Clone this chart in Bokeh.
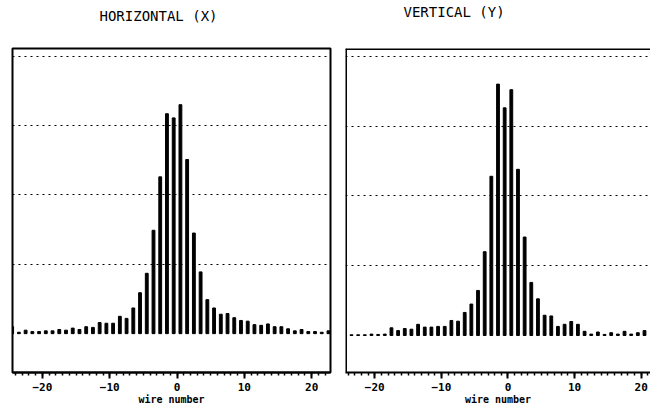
from bokeh.plotting import figure
from bokeh.layouts import row
from bokeh.models import (SingleIntervalTicker, FixedTicker, Range1d, Span,
                          ColumnDataSource, Title)
from bokeh.transform import dodge
from bokeh.embed import file_html
from bokeh.resources import INLINE

# ---- data ----
wires_x = list(range(-25, 23))          # horizontal plane wires
counts_x = [0.10, 0.02, 0.05, 0.03, 0.03, 0.04, 0.04, 0.06, 0.05, 0.08,
            0.06, 0.10, 0.09, 0.16, 0.15, 0.15, 0.25, 0.22, 0.37, 0.59,
            0.87, 1.49, 2.26, 3.17, 3.11, 3.30, 2.51, 1.45, 0.89, 0.49,
            0.37, 0.28, 0.29, 0.23, 0.19, 0.18, 0.13, 0.12, 0.14, 0.10,
            0.10, 0.07, 0.04, 0.06, 0.03, 0.03, 0.02, 0.04]

wires_y = list(range(-24, 21))          # vertical plane wires
counts_y = [0.01, 0.01, 0.01, 0.02, 0.015, 0.02, 0.11, 0.07, 0.10, 0.09,
            0.16, 0.12, 0.12, 0.13, 0.13, 0.215, 0.205, 0.33, 0.45, 0.645,
            1.20, 2.28, 3.60, 3.26, 3.52, 2.38, 1.41, 0.76, 0.525, 0.29,
            0.28, 0.13, 0.16, 0.20, 0.16, 0.06, 0.02, 0.05, 0.015, 0.04,
            0.02, 0.06, 0.02, 0.04, 0.07]

grid_levels = [1, 2, 3, 4]
titles = ["HORIZONTAL (X)", "VERTICAL (Y)"]
x_label = "wire number"

MONO = "DejaVu Sans Mono"


def make_panel(wires, counts, title, width, xr, yr, mb_left, mb_right,
               title_offset, spacer, outline=True):
    p = figure(width=width, height=408, x_range=Range1d(*xr),
               y_range=Range1d(*yr), output_backend="svg", title=None,
               toolbar_location=None, min_border_left=mb_left,
               min_border_right=mb_right, min_border_top=48,
               min_border_bottom=36)
    p.background_fill_color = "white"
    p.border_fill_color = "white"
    src = ColumnDataSource(dict(wire=wires, count=counts))
    p.vbar(x=dodge("wire", 0.5, range=p.x_range), top="count", bottom=0,
           width=0.42, color="black", source=src)

    # spacer between frame and title, then the title itself
    p.add_layout(Title(text=" ", text_font_size="10px", standoff=spacer),
                 "above")
    p.add_layout(Title(text=title, align="left", offset=title_offset,
                       standoff=0, text_font=MONO, text_font_size="14px",
                       text_font_style="normal", text_color="black"), "above")

    p.yaxis.visible = False
    p.xgrid.visible = False
    p.ygrid.ticker = FixedTicker(ticks=grid_levels)
    p.ygrid.grid_line_color = "black"
    p.ygrid.grid_line_dash = "2 4"
    p.ygrid.grid_line_width = 1

    ax = p.xaxis[0]
    ax.ticker = SingleIntervalTicker(interval=10, num_minor_ticks=10)
    ax.axis_line_width = 2
    ax.axis_line_color = "black"
    ax.major_tick_line_width = 2
    ax.major_tick_line_color = "black"
    ax.minor_tick_line_color = "black"
    ax.minor_tick_line_width = 1.5
    ax.major_tick_in = 0
    ax.major_tick_out = 6
    ax.minor_tick_in = 0
    ax.minor_tick_out = 3
    ax.major_label_standoff = 4
    ax.major_label_text_font = MONO
    ax.major_label_text_font_style = "bold"
    ax.major_label_text_font_size = "11px"
    ax.major_label_text_color = "black"
    ax.axis_label = x_label
    ax.axis_label_standoff = 0
    ax.axis_label_text_font = MONO
    ax.axis_label_text_font_style = "bold"
    ax.axis_label_text_font_size = "10px"
    ax.axis_label_text_color = "black"

    if outline:
        p.outline_line_color = "black"
        p.outline_line_width = 2
    else:
        p.outline_line_color = None
        p.add_layout(Span(location=xr[0], dimension="height",
                          line_color="black", line_width=3))
        p.add_layout(Span(location=yr[1], dimension="width",
                          line_color="black", line_width=3))
    return p


p1 = make_panel(wires_x, counts_x, titles[0], 338, (-24.45, 22.8),
                (-0.56, 4.11), 12, 8, 87, 12, outline=True)
p2 = make_panel(wires_y, counts_y, titles[1], 312, (-24.4, 21.4),
                (-0.53, 4.11), 7, 0, 58, 16, outline=False)

layout = row(p1, p2)
open("out.html", "w").write(file_html(layout, INLINE))
